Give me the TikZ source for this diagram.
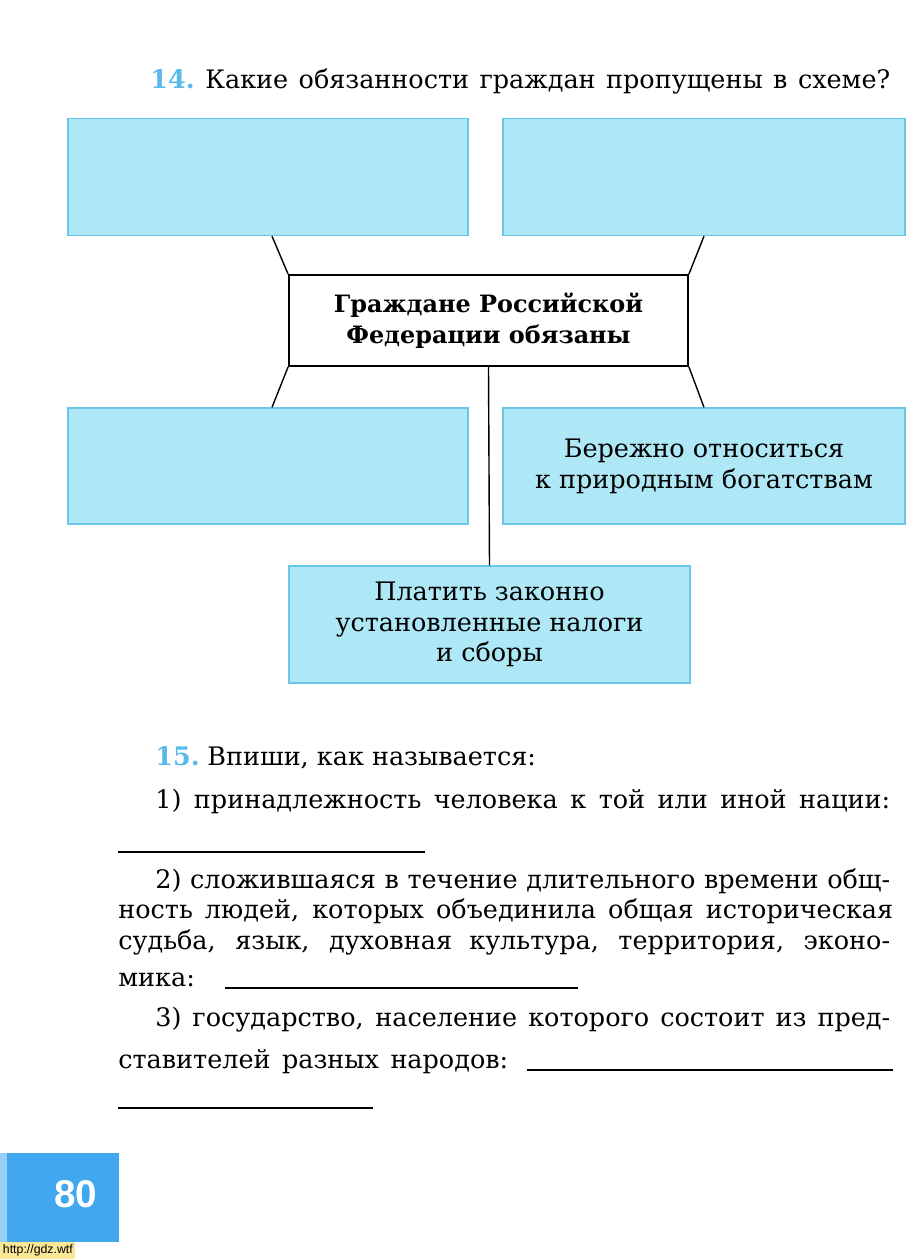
\documentclass[tikz,border=0pt]{standalone}
\usepackage{fontspec}
\setmainfont{DejaVu Serif}
\newfontfamily\pagefont{Liberation Sans}
\usetikzlibrary{calc}
\definecolor{boxcyan}{RGB}{174,231,246}
\definecolor{boxedge}{RGB}{105,198,232}
\definecolor{numblue}{RGB}{90,185,235}
\definecolor{pageblue}{RGB}{65,168,240}
\definecolor{stampyellow}{RGB}{250,232,150}

\begin{document}
\begin{tikzpicture}[x=0.02cm, y=-0.02cm,
  duty/.style={draw=boxedge, fill=boxcyan, line width=0.8pt, minimum width=8cm,
    minimum height=2.34cm, inner sep=0pt, align=center,
    font=\fontsize{14.5}{17.5}\selectfont},
  txt/.style={anchor=base west, inner sep=0pt, font=\fontsize{14.5}{17.5}\selectfont},
  blank/.style={line width=0.7pt}]
  \useasboundingbox (0,0) rectangle (922,1259);
  % Question 14
  \node[txt, text=numblue, font=\bfseries\fontsize{14.5}{17.5}\selectfont] (q14n) at (150,88) {14.};
  \node[txt] (q14) at (205,88) {\makebox[13.7cm][s]{Какие обязанности граждан пропущены в схеме?}};
  % The duties - boxes round the centre
  \node[duty] (tl) at (268,177) {};
  \node[duty, minimum width=8.04cm] (tr) at (704,177) {};
  \node[duty, fill=white, draw=black, line width=1.1pt, minimum width=7.98cm,
    minimum height=1.82cm, font=\bfseries\fontsize{13.6}{17.5}\selectfont] (mid) at (488.5,320.5)
    {Граждане Российской\\Федерации обязаны};
  \node[duty, minimum height=2.32cm] (bl) at (268,466) {};
  \node[duty, minimum width=8.04cm, minimum height=2.32cm] (br) at (704,466)
    {Бережно относиться\\к природным богатствам};
  \node[duty, minimum width=8.02cm] (bot) at (489.5,624.5)
    {Платить законно\\установленные налоги\\и сборы};
  % Connectors
  \draw[line width=0.8pt] ($(tl.south)+(4,0)$) -- (mid.north west);
  \draw[line width=0.8pt] (tr.south) -- (mid.north east);
  \draw[line width=0.8pt] (mid.south west) -- ($(bl.north)+(4,0)$);
  \draw[line width=0.8pt] (mid.south east) -- (br.north);
  \draw[line width=0.8pt] (mid.south) -- (bot.north);
  % Question 15
  \node[txt, text=numblue, font=\bfseries\fontsize{14.5}{17.5}\selectfont] (q15n) at (155,765) {15.};
  \node[txt] (q15) at (207,765) {Впиши, как называется:};
  \node[txt] (l1) at (155,808) {\makebox[14.7cm][s]{1) принадлежность человека к той или иной нации:}};
  \draw[blank] (118,852) -- (425,852);
  \node[txt] (l2) at (155,888) {\makebox[14.7cm][s]{2) сложившаяся в течение длительного времени общ-}};
  \node[txt] (l3) at (118,918) {\makebox[15.5cm][s]{ность людей, которых объединила общая историческая}};
  \node[txt] (l4) at (118,949) {\makebox[15.44cm][s]{судьба, язык, духовная культура, территория, эконо-}};
  \node[txt] (l5) at (118,986) {мика:};
  \draw[blank] (225,988) -- (578,988);
  \node[txt] (l6) at (155,1026) {\makebox[14.7cm][s]{3) государство, население которого состоит из пред-}};
  \node[txt] (l7) at (118,1068) {\makebox[7.8cm][s]{ставителей разных народов:}};
  \draw[blank] (527,1070) -- (893,1070);
  \draw[blank] (118,1108) -- (373,1108);
  % Page number
  \fill[pageblue] (0,1153) rectangle (119,1242);
  \fill[pageblue!55!white] (0,1153) rectangle (7,1242);
  \node[text=white, font=\pagefont\bfseries\fontsize{22}{22}\selectfont] (pnum) at (76,1194) {80};
  \node[fill=stampyellow, anchor=south west, inner sep=1.5pt,
    font=\pagefont\fontsize{7}{8}\selectfont] (stamp) at (0,1259) {http://gdz.wtf};
\end{tikzpicture}
\end{document}
